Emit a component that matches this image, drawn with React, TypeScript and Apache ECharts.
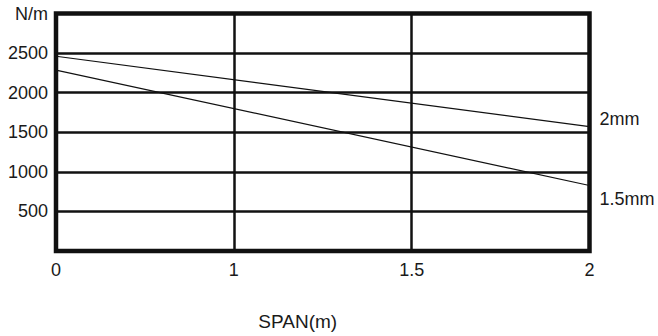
import React, { useEffect, useRef } from "react";
import * as echarts from "echarts";

const spanLabels = ["0", "1", "1.5", "2"];
const series2mm = [2460, null, null, 1570];
const series15mm = [2285, null, null, 827];
const yTicks = [0, 500, 1000, 1500, 2000, 2500, 3000];

export default function App() {
  const ref = useRef<HTMLDivElement>(null);
  useEffect(() => {
    if (!ref.current) return;
    const chart = echarts.init(ref.current, null, { renderer: "svg" });
    const font = "'Liberation Sans', Arial, sans-serif";
    chart.setOption({
      animation: false,
      backgroundColor: "#fff",
      grid: {
        left: 56,
        right: 68.5,
        top: 13.5,
        bottom: 82.5,
        show: true,
        borderColor: "#111",
        borderWidth: 4.5,
        backgroundColor: "transparent",
      },
      xAxis: {
        type: "category",
        data: spanLabels,
        boundaryGap: false,
        name: "SPAN(m)",
        nameLocation: "middle",
        nameGap: 61,
        nameTextStyle: {
          fontFamily: font,
          fontSize: 19,
          color: "#1a1a1a",
          padding: [0, 50, 0, 0],
        },
        axisLine: { show: false },
        axisTick: { show: false },
        axisLabel: { fontFamily: font, fontSize: 18, color: "#1a1a1a", margin: 10 },
        splitLine: { show: true, lineStyle: { color: "#111", width: 2.5 } },
      },
      yAxis: {
        type: "value",
        min: yTicks[0],
        max: yTicks[yTicks.length - 1],
        interval: 500,
        axisLine: { show: false },
        axisTick: { show: false },
        axisLabel: {
          fontFamily: font,
          fontSize: 18,
          color: "#1a1a1a",
          margin: 8,
          formatter: (v: number) => (v === 0 ? "" : v === 3000 ? "N/m" : String(v)),
        },
        splitLine: { show: true, lineStyle: { color: "#111", width: 2.5 } },
      },
      series: [
        {
          name: "2mm",
          type: "line",
          data: series2mm,
          connectNulls: true,
          showSymbol: false,
          symbol: "none",
          lineStyle: { color: "#111", width: 1.2 },
          endLabel: {
            show: true,
            formatter: "2mm",
            distance: 10,
            offset: [0, -8],
            fontFamily: font,
            fontSize: 18,
            color: "#1a1a1a",
          },
        },
        {
          name: "1.5mm",
          type: "line",
          data: series15mm,
          connectNulls: true,
          showSymbol: false,
          symbol: "none",
          lineStyle: { color: "#111", width: 1.2 },
          endLabel: {
            show: true,
            formatter: "1.5mm",
            distance: 10,
            offset: [0, 13],
            fontFamily: font,
            fontSize: 18,
            color: "#1a1a1a",
          },
        },
      ],
    });
    return () => chart.dispose();
  }, []);
  return <div ref={ref} style={{ width: 658, height: 336, position: "absolute", left: 0, top: 0 }} />;
}
